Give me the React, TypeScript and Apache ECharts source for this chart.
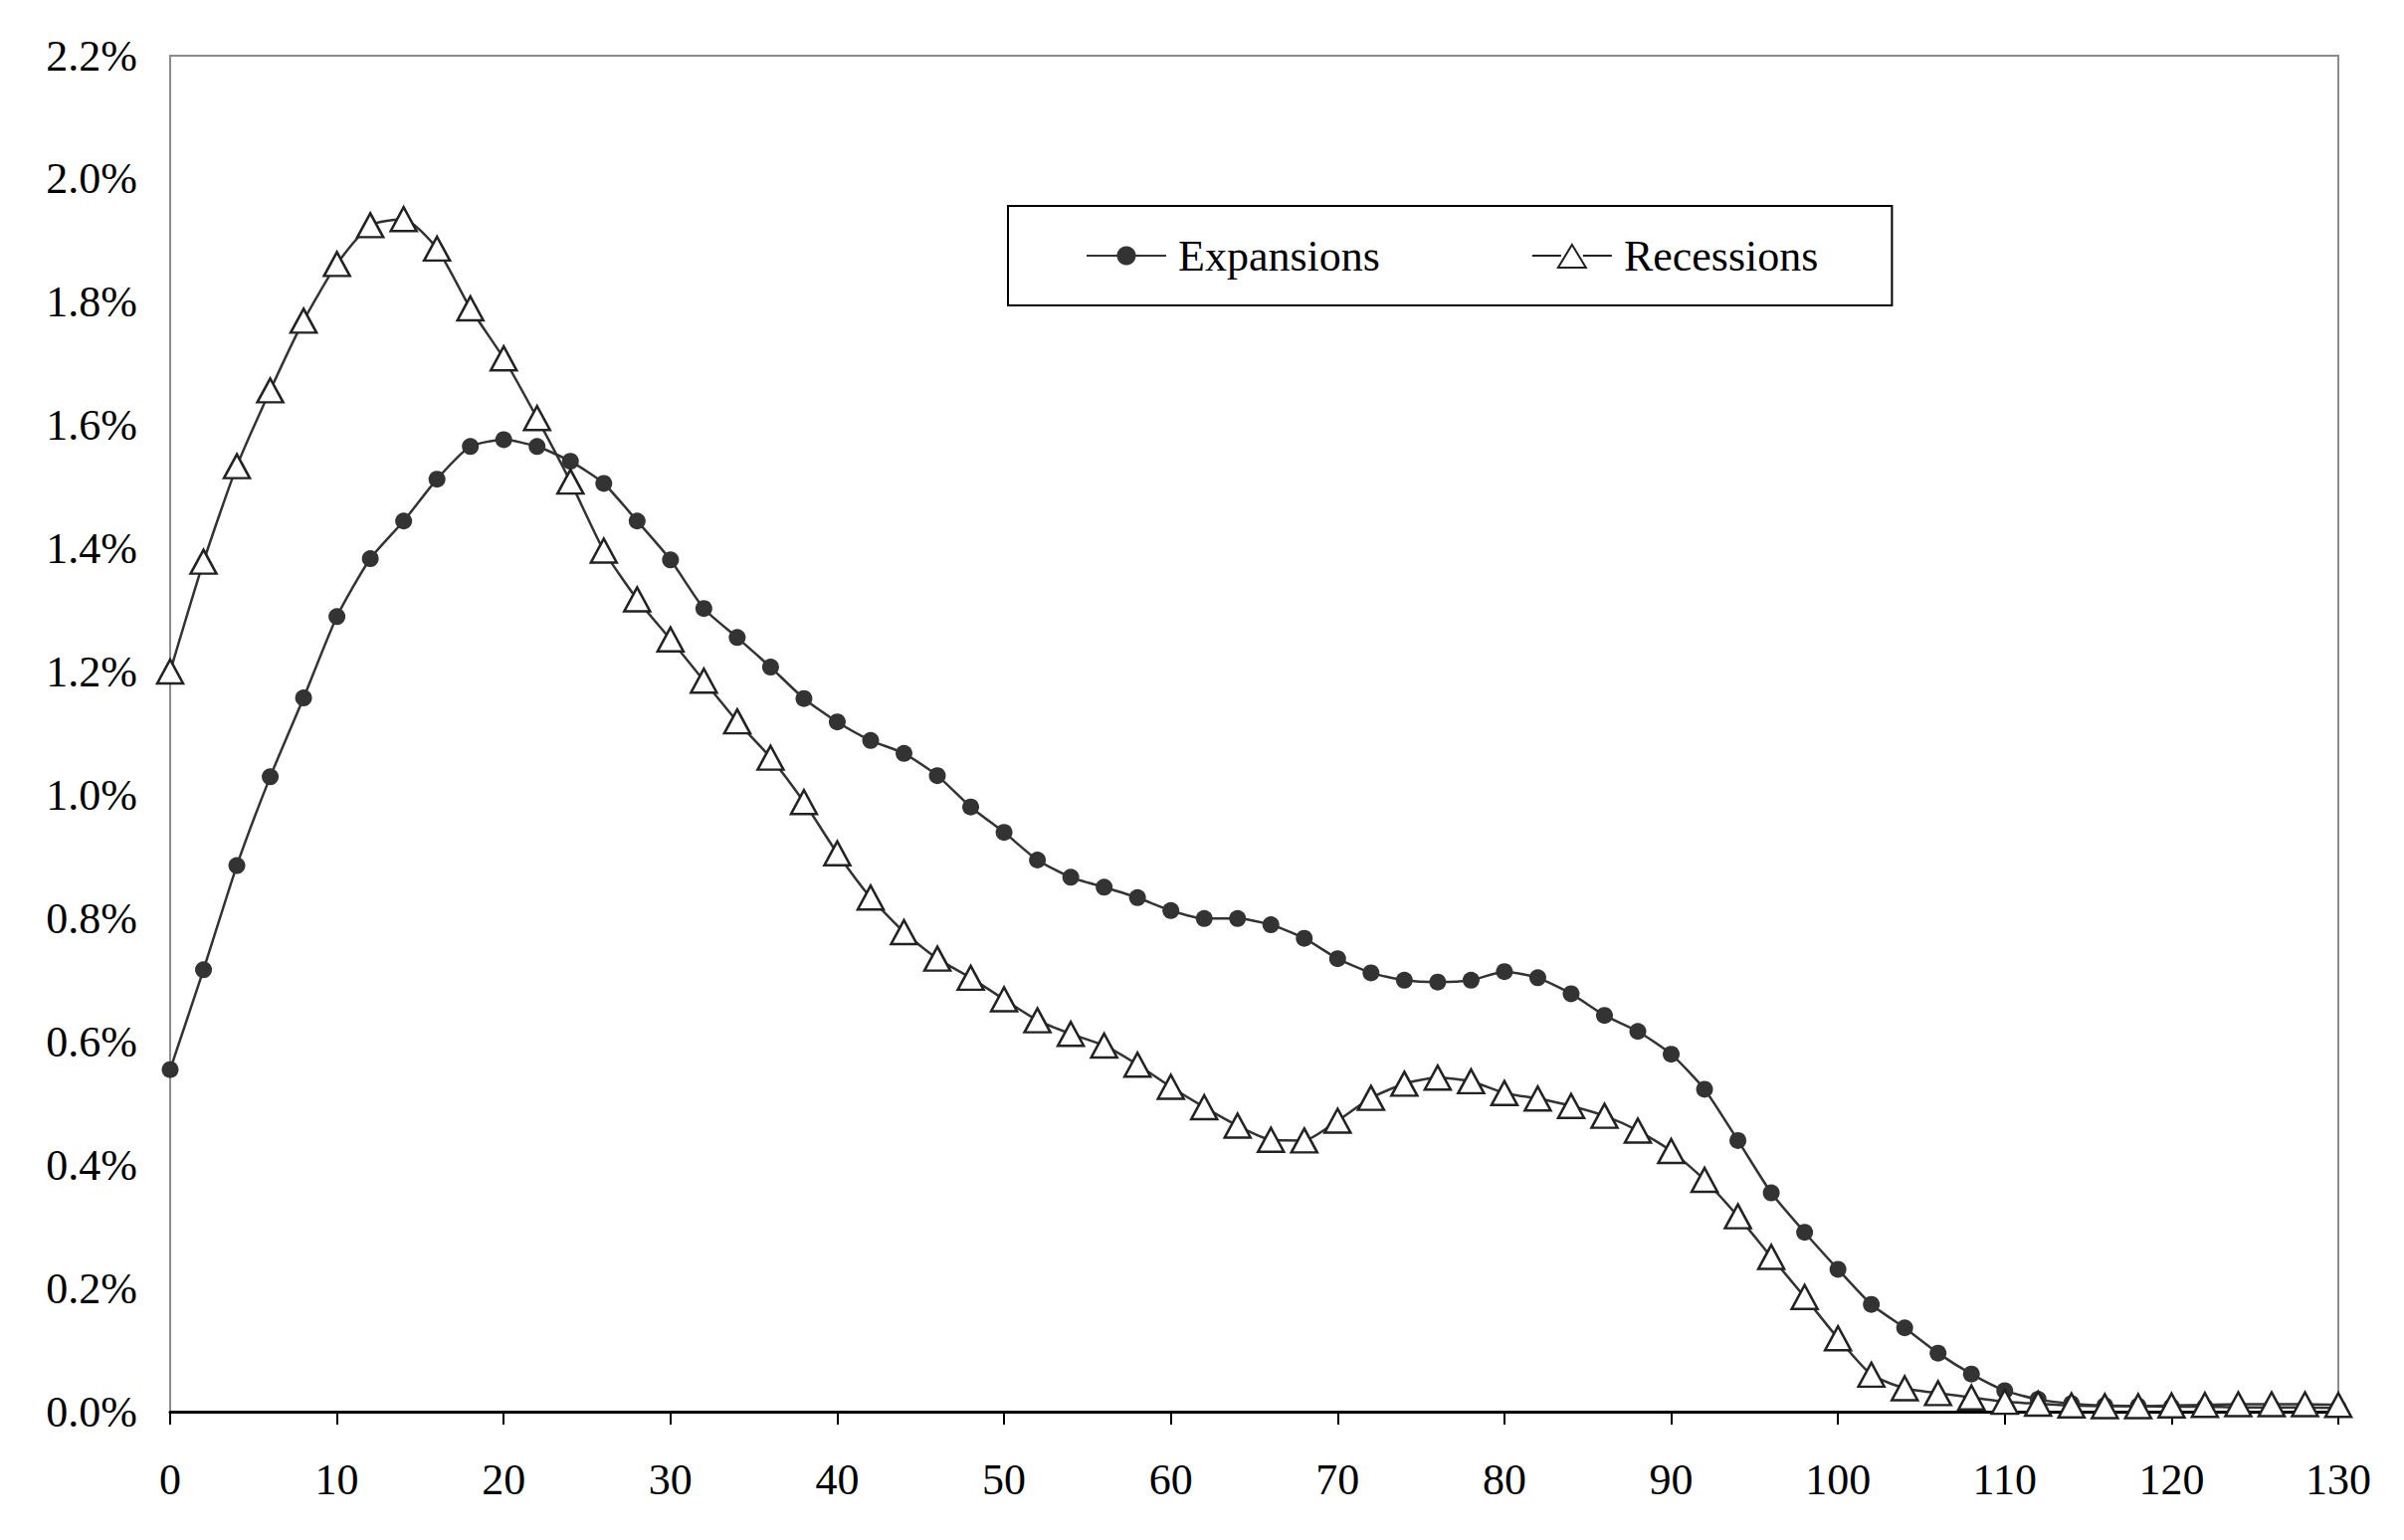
import React, { useEffect, useRef } from "react";
import * as echarts from "echarts";

const ages = [
  0, 2, 4, 6, 8, 10, 12, 14, 16, 18, 20, 22, 24, 26, 28, 30, 32, 34, 36, 38, 40, 42,
  44, 46, 48, 50, 52, 54, 56, 58, 60, 62, 64, 66, 68, 70, 72, 74, 76, 78, 80, 82, 84,
  86, 88, 90, 92, 94, 96, 98, 100, 102, 104, 106, 108, 110, 112, 114, 116, 118, 120,
  122, 124, 126, 128, 130,
];

const expansions = [
  0.555, 0.717, 0.886, 1.03, 1.158, 1.29, 1.384, 1.445, 1.513, 1.566, 1.577, 1.566,
  1.542, 1.506, 1.445, 1.382, 1.303, 1.256, 1.208, 1.157, 1.119, 1.089, 1.068, 1.032,
  0.981, 0.94, 0.895, 0.867, 0.851, 0.834, 0.813, 0.8, 0.8, 0.79, 0.768, 0.735, 0.712,
  0.7, 0.697, 0.7, 0.714, 0.704, 0.678, 0.643, 0.617, 0.58, 0.523, 0.44, 0.355, 0.291,
  0.231, 0.174, 0.136, 0.095, 0.061, 0.034, 0.02, 0.013, 0.01, 0.009, 0.008, 0.008,
  0.007, 0.007, 0.007, 0.006,
];

const recessions = [
  1.201, 1.379, 1.534, 1.657, 1.77, 1.862, 1.925, 1.935, 1.887, 1.79, 1.709, 1.612,
  1.509, 1.397, 1.318, 1.253, 1.186, 1.12, 1.061, 0.989, 0.906, 0.834, 0.778, 0.735,
  0.704, 0.669, 0.635, 0.613, 0.594, 0.563, 0.527, 0.494, 0.464, 0.441, 0.44, 0.472,
  0.509, 0.532, 0.542, 0.536, 0.517, 0.508, 0.496, 0.48, 0.456, 0.423, 0.376, 0.317,
  0.251, 0.186, 0.119, 0.06, 0.038, 0.03, 0.023, 0.016, 0.013, 0.01, 0.009, 0.009, 0.01,
  0.011, 0.012, 0.012, 0.012, 0.011,
];

const seriesNames = ["Expansions", "Recessions"];

const FONT = "Liberation Serif";

const TRIANGLE_LEGEND_ICON =
  "path://M40 0M0 12L29 12M51 12L80 12M40 1L54 24L26 24Z";

export default function App() {
  const ref = useRef<HTMLDivElement>(null);

  useEffect(() => {
    if (!ref.current) return;
    const chart = echarts.init(ref.current, null, { renderer: "svg" });
    const toPairs = (vals: number[]) => ages.map((a, i) => [a, vals[i]]);
    chart.setOption({
      animation: false,
      backgroundColor: "#ffffff",
      grid: {
        left: 171,
        top: 56,
        right: 66,
        bottom: 129,
        show: true,
        borderColor: "#8c8c8c",
        borderWidth: 2,
        backgroundColor: "transparent",
      },
      legend: {
        data: [seriesNames[0], { name: seriesNames[1], icon: TRIANGLE_LEGEND_ICON }],
        left: 1013,
        top: 207,
        orient: "horizontal",
        padding: [28, 74, 28, 78],
        itemWidth: 80,
        itemHeight: 24,
        itemGap: 152,
        symbolKeepAspect: true,
        borderColor: "#000000",
        borderWidth: 2,
        backgroundColor: "#ffffff",
        textStyle: {
          fontFamily: FONT,
          fontSize: 44,
          color: "#000000",
          lineHeight: 44,
          padding: [0, 0, 0, 7],
        },
      },
      xAxis: {
        type: "value",
        min: 0,
        max: 130,
        interval: 10,
        axisLine: { show: true, onZero: false, lineStyle: { color: "#000000", width: 3 } },
        axisTick: { show: true, inside: false, length: 13, lineStyle: { color: "#000000", width: 2 } },
        axisLabel: { fontFamily: FONT, fontSize: 44, color: "#000000", margin: 46 },
        splitLine: { show: false },
      },
      yAxis: {
        type: "value",
        min: 0,
        max: 2.2,
        interval: 0.2,
        axisLine: { show: false },
        axisTick: { show: false },
        axisLabel: {
          fontFamily: FONT,
          fontSize: 44,
          color: "#000000",
          margin: 33,
          formatter: (v: number) => v.toFixed(1) + "%",
        },
        splitLine: { show: false },
      },
      series: [
        {
          name: seriesNames[0],
          type: "line",
          data: toPairs(expansions),
          smooth: 0.2,
          symbol: "circle",
          symbolSize: 17,
          showAllSymbol: true,
          lineStyle: { color: "#333333", width: 2.5 },
          itemStyle: { color: "#333333", borderColor: "#333333", borderWidth: 0 },
          z: 2,
        },
        {
          name: seriesNames[1],
          type: "line",
          data: toPairs(recessions),
          smooth: 0.2,
          symbol: "triangle",
          symbolSize: [26, 24],
          showAllSymbol: true,
          lineStyle: { color: "#333333", width: 2.5 },
          itemStyle: { color: "#ffffff", borderColor: "#222222", borderWidth: 2.5 },
          z: 3,
        },
      ],
    });
    return () => chart.dispose();
  }, []);

  return (
    <div
      ref={ref}
      style={{ position: "fixed", left: 0, top: 0, width: 2416, height: 1548, background: "#fff" }}
    />
  );
}
